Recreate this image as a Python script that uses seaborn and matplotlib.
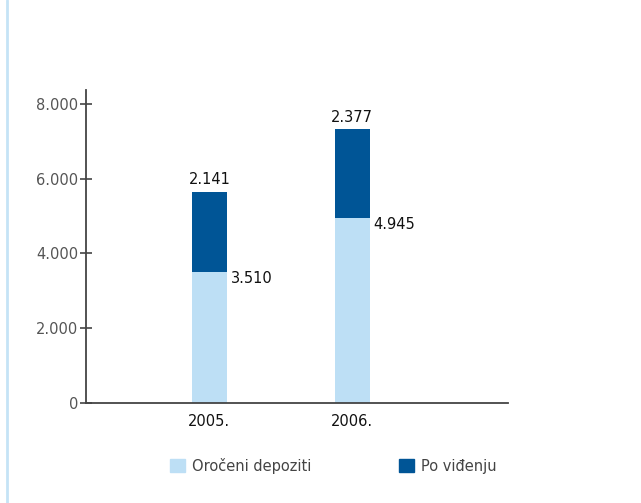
import seaborn as sns
import numpy as np
import matplotlib.pyplot as plt
import matplotlib.patches as mpatches
from matplotlib.lines import Line2D

# podaci
years = ['2005.', '2006.']
oroceni = [3510, 4945]
po_videnju = [2141, 2377]
yticks = [0, 2000, 4000, 6000, 8000]

light = '#bddff5'
dark = '#005596'
axcol = '#444444'

def fmt(v):
    return f'{v:,}'.replace(',', '.')

sns.set_style('white')
plt.rcParams['font.family'] = ['DejaVu Sans']

fig = plt.figure(figsize=(6.41, 5.03), dpi=100)
ax = fig.add_axes([0.134, 0.199, 0.658, 0.622])

total = [a + b for a, b in zip(oroceni, po_videnju)]
sns.barplot(x=years, y=total, color=dark, width=0.245, ax=ax, saturation=1,
            linewidth=0)
sns.barplot(x=years, y=oroceni, color=light, width=0.245, ax=ax, saturation=1,
            linewidth=0)

# oznake vrijednosti
for i in range(len(years)):
    ax.text(i, total[i] + 130, fmt(po_videnju[i]), ha='center', va='bottom',
            fontsize=10.5, color='#111111')
    ax.text(i + 0.15, oroceni[i] + 30, fmt(oroceni[i]), ha='left', va='top',
            fontsize=10.5, color='#111111')

ax.set_xlim(-0.864, 2.087)
ax.set_ylim(0, 8375)
ax.set_yticks(yticks)
ax.set_yticklabels([fmt(v) for v in yticks])
ax.tick_params(axis='y', left=True, direction='inout', length=9, width=1.2,
               color=axcol, labelcolor='#555555', labelsize=10.5, pad=1)
ax.tick_params(axis='x', bottom=False, length=0, labelsize=10.5,
               labelcolor='#111111', pad=8)
sns.despine(ax=ax)
for s in ['left', 'bottom']:
    ax.spines[s].set_color(axcol)
    ax.spines[s].set_linewidth(1.3)
ax.set_xlabel('')
ax.set_ylabel('')

# legenda
handles = [mpatches.Patch(color=light, label='Oročeni depoziti'),
           mpatches.Patch(color=dark, label='Po viđenju')]
leg = fig.legend(handles=handles, loc='center', bbox_to_anchor=(0.52, 0.074),
                 ncol=2, frameon=False, handlelength=1.0, handleheight=1.0,
                 handletextpad=0.5, columnspacing=6.0, fontsize=10.5)
for t in leg.get_texts():
    t.set_color('#444444')

# lijeva plava linija
fig.add_artist(Line2D([0.011, 0.011], [0, 1], color='#c5e3f6', lw=2.0,
                      transform=fig.transFigure))

plt.savefig('out.png', dpi=100)
